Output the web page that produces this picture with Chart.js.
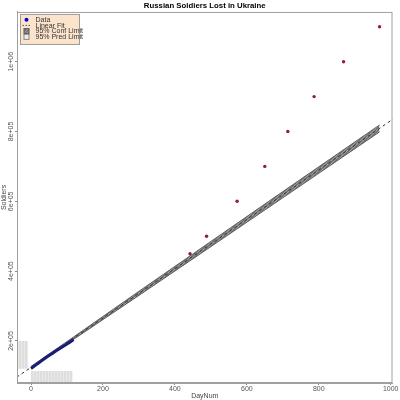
<!DOCTYPE html>
<html>
<head>
<meta charset="utf-8">
<script src="https://cdn.jsdelivr.net/npm/chart.js@4.4.1/dist/chart.umd.min.js"></script>
<style>
  html, body { margin: 0; padding: 0; background: #fff; }
  #wrap { width: 400px; height: 400px; }
</style>
</head>
<body>
<div id="wrap"><canvas id="c"></canvas></div>
<script>
// observed totals (day number, soldiers)
var dataDays     = [0, 10, 20, 30, 40, 50, 60, 70, 80, 90, 100, 110, 118];
var dataSoldiers = [121000, 128500, 136000, 143500, 151000, 158000, 165000, 172000, 178500, 185000, 191500, 198000, 204000];

// projected milestone days
var mileDays     = [442, 488, 573, 650, 714, 787, 869, 969];
var mileSoldiers = [450000, 500000, 600000, 700000, 800000, 900000, 1000000, 1100000];

// linear fit, end points
var fitDays     = [-40, 1010];
var fitSoldiers = [96000, 838000];

// 95% confidence band
var bandDays  = [0, 118, 300, 500, 700, 969];
var bandUpper = [127300, 211200, 342300, 485100, 627900, 818900];
var bandLower = [121300, 204200, 330300, 470100, 609900, 798900];

// 95% prediction limit blocks (as drawn in the original)
var predADays = [-45, -8];
var predATop  = [200000, 200000];
var predABot  = [120000, 120000];
var predBDays = [0, 116];
var predBTop  = [114000, 114000];

// axes
var xTicks = [0, 200, 400, 600, 800, 1000];
var xTickLabels = ['0', '200', '400', '600', '800', '1000'];
var yTicks = [200000, 400000, 600000, 800000, 1000000];
var yTickLabels = ['2e+05', '4e+05', '6e+05', '8e+05', '1e+06'];

var legendLabels = ['Data', 'Linear Fit', '95% Conf Limit', '95% Pred Limit'];

function pts(xs, ys) {
  return xs.map(function (x, i) { return { x: x, y: ys[i] }; });
}

function makePattern(bg, line, step, diag) {
  var p = document.createElement('canvas');
  p.width = step; p.height = step;
  var g = p.getContext('2d');
  g.fillStyle = bg;
  g.fillRect(0, 0, step, step);
  g.strokeStyle = line;
  g.lineWidth = 1;
  g.beginPath();
  if (diag) { g.moveTo(0, step); g.lineTo(step, 0); }
  else { g.moveTo(0.5, 0); g.lineTo(0.5, step); }
  g.stroke();
  return g.createPattern(p, 'repeat');
}

var predFill = makePattern('#dedede', '#e9e9e9', 3, false);
var bandFill = makePattern('#767676', '#a0a0a0', 3, true);

Chart.defaults.font.family = '"Liberation Sans", Arial, sans-serif';
Chart.defaults.font.size = 7;

var boxLegend = {
  id: 'boxLegend',
  afterDraw: function (chart) {
    var ctx = chart.ctx, a = chart.chartArea;
    ctx.save();
    ctx.strokeStyle = '#a0a0a0';
    ctx.lineWidth = 1;
    ctx.strokeRect(a.left + 0.5, a.top + 0.5, a.right - a.left - 1, a.bottom - a.top - 1);

    var x0 = a.left + 3.5, y0 = a.top + 2.5;
    ctx.fillStyle = '#fbe4cb';
    ctx.fillRect(x0, y0, 59, 30);
    ctx.strokeStyle = '#9c9c9c';
    ctx.strokeRect(x0, y0, 59, 30);

    var sx = x0 + 6, tx = x0 + 15;
    ctx.font = '7px "Liberation Sans", Arial, sans-serif';
    ctx.textBaseline = 'middle';
    legendLabels.forEach(function (lab, i) {
      var y = y0 + 5.3 + i * 5.7;
      if (i === 0) {
        ctx.fillStyle = '#0000c8';
        ctx.beginPath(); ctx.arc(sx, y, 2, 0, Math.PI * 2); ctx.fill();
      } else if (i === 1) {
        ctx.strokeStyle = '#555'; ctx.setLineDash([1.5, 1.5]);
        ctx.beginPath(); ctx.moveTo(sx - 4, y); ctx.lineTo(sx + 4, y); ctx.stroke();
        ctx.setLineDash([]);
      } else if (i === 2) {
        ctx.fillStyle = bandFill; ctx.fillRect(sx - 2.5, y - 2.5, 5, 5);
        ctx.strokeStyle = '#555'; ctx.strokeRect(sx - 2.5, y - 2.5, 5, 5);
      } else {
        ctx.fillStyle = '#eeeeee'; ctx.fillRect(sx - 2.5, y - 2.5, 5, 5);
        ctx.strokeStyle = '#888'; ctx.strokeRect(sx - 2.5, y - 2.5, 5, 5);
      }
      ctx.fillStyle = '#333';
      ctx.fillText(lab, tx, y + 0.3);
    });
    ctx.restore();
  }
};

new Chart(document.getElementById('c'), {
  type: 'scatter',
  data: {
    datasets: [
      { data: pts(predADays, predATop), showLine: true, borderWidth: 0, pointRadius: 0, fill: false, order: 8 },
      { data: pts(predADays, predABot), showLine: true, borderWidth: 0, pointRadius: 0, fill: '-1', backgroundColor: predFill, order: 8 },
      { data: pts(predBDays, predBTop), showLine: true, borderWidth: 0, pointRadius: 0, fill: 'start', backgroundColor: predFill, order: 8 },
      { data: pts(bandDays, bandUpper), showLine: true, borderColor: '#4a4a4a', borderWidth: 0.8, pointRadius: 0, fill: false, order: 6 },
      { data: pts(bandDays, bandLower), showLine: true, borderColor: '#4a4a4a', borderWidth: 0.8, pointRadius: 0, fill: '-1', backgroundColor: bandFill, order: 6 },
      { data: pts(fitDays, fitSoldiers), showLine: true, borderColor: '#333', borderWidth: 1, borderDash: [3, 3], pointRadius: 0, fill: false, order: 3 },
      { data: pts(dataDays, dataSoldiers), showLine: true, borderColor: '#1b1b7a', borderWidth: 3, pointRadius: 0, fill: false, order: 2 },
      { data: pts(mileDays, mileSoldiers), showLine: false, pointRadius: 1.7, pointBorderWidth: 0, backgroundColor: '#8e1b40', order: 1 }
    ]
  },
  options: {
    responsive: true,
    maintainAspectRatio: false,
    animation: false,
    layout: { padding: { top: 0, right: 7.5, left: 0, bottom: 0 } },
    scales: {
      x: {
        type: 'linear', min: -39, max: 1005,
        afterBuildTicks: function (s) { s.ticks = xTicks.map(function (v) { return { value: v }; }); },
        afterFit: function (s) { s.height = 17; },
        ticks: {
          color: '#555', padding: 0, autoSkip: false, maxRotation: 0,
          callback: function (v) { return xTickLabels[xTicks.indexOf(v)]; }
        },
        grid: { display: true, drawOnChartArea: false, drawTicks: true, tickLength: 2, color: '#888' },
        border: { display: true, color: '#a0a0a0' },
        title: { display: true, text: 'DayNum', color: '#444', padding: 0 }
      },
      y: {
        type: 'linear', min: 79500, max: 1142500,
        afterBuildTicks: function (s) { s.ticks = yTicks.map(function (v) { return { value: v }; }); },
        afterFit: function (s) { s.width = 17; },
        ticks: {
          color: '#555', padding: -6, autoSkip: false, minRotation: 90, maxRotation: 90, crossAlign: 'center',
          callback: function (v) { return yTickLabels[yTicks.indexOf(v)]; }
        },
        grid: { display: true, drawOnChartArea: false, drawTicks: true, tickLength: 2, color: '#888' },
        border: { display: true, color: '#a0a0a0' },
        title: { display: true, text: 'Soldiers', color: '#444', padding: 0 }
      }
    },
    plugins: {
      legend: { display: false },
      tooltip: { enabled: false },
      title: {
        display: true, text: 'Russian Soldiers Lost in Ukraine', color: '#000', fullSize: false,
        font: { size: 7.8, weight: 'bold' }, padding: { top: 1.3, bottom: 1.3 }
      }
    }
  },
  plugins: [boxLegend]
});
</script>
</body>
</html>
